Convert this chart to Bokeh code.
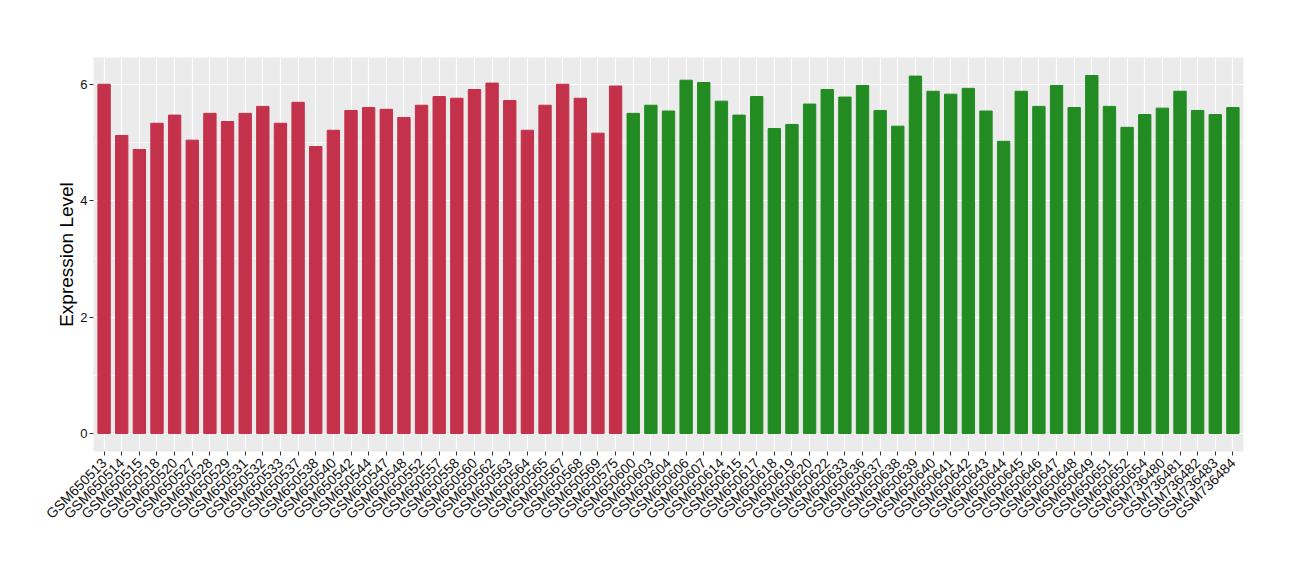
import math
from bokeh.plotting import figure
from bokeh.models import Range1d, SingleIntervalTicker, FixedTicker
from bokeh.embed import file_html
from bokeh.resources import INLINE

samples_red = ["GSM650513", "GSM650514", "GSM650515", "GSM650518", "GSM650520", "GSM650527",
               "GSM650528", "GSM650529", "GSM650531", "GSM650532", "GSM650533", "GSM650537",
               "GSM650538", "GSM650540", "GSM650542", "GSM650544", "GSM650547", "GSM650548",
               "GSM650552", "GSM650557", "GSM650558", "GSM650560", "GSM650562", "GSM650563",
               "GSM650564", "GSM650565", "GSM650567", "GSM650568", "GSM650569", "GSM650575"]
values_red = [6.00, 5.12, 4.88, 5.33, 5.47, 5.04, 5.50, 5.36, 5.50, 5.62, 5.33, 5.69,
              4.93, 5.21, 5.55, 5.60, 5.57, 5.43, 5.64, 5.79, 5.76, 5.91, 6.02, 5.72,
              5.21, 5.64, 6.00, 5.76, 5.16, 5.97]

samples_green = ["GSM650600", "GSM650603", "GSM650604", "GSM650606", "GSM650607", "GSM650614",
                 "GSM650615", "GSM650617", "GSM650618", "GSM650619", "GSM650620", "GSM650622",
                 "GSM650633", "GSM650636", "GSM650637", "GSM650638", "GSM650639", "GSM650640",
                 "GSM650641", "GSM650642", "GSM650643", "GSM650644", "GSM650645", "GSM650646",
                 "GSM650647", "GSM650648", "GSM650649", "GSM650651", "GSM650652", "GSM650654",
                 "GSM736480", "GSM736481", "GSM736482", "GSM736483", "GSM736484"]
values_green = [5.50, 5.64, 5.54, 6.07, 6.03, 5.71, 5.47, 5.79, 5.24, 5.31, 5.66, 5.91,
                5.78, 5.98, 5.55, 5.28, 6.14, 5.88, 5.83, 5.93, 5.54, 5.02, 5.88, 5.62,
                5.98, 5.60, 6.15, 5.62, 5.26, 5.48, 5.59, 5.88, 5.55, 5.48, 5.60]

red = "#C3314A"
green = "#228B22"

samples = samples_red + samples_green
pos_red = list(range(1, len(samples_red) + 1))
pos_green = list(range(len(samples_red) + 1, len(samples) + 1))
all_pos = pos_red + pos_green

p = figure(width=1292, height=564, output_backend="svg", toolbar_location=None,
           x_range=Range1d(0.4, len(samples) + 0.6),
           y_range=Range1d(-0.31, 6.46),
           min_border_left=93, min_border_right=49, min_border_top=57, min_border_bottom=113)

p.vbar(x=pos_red, top=values_red, width=0.7, color=red)
p.vbar(x=pos_green, top=values_green, width=0.7, color=green)

p.background_fill_color = "#EBEBEB"
p.border_fill_color = "white"
p.outline_line_color = None

p.xaxis.ticker = FixedTicker(ticks=all_pos)
p.xaxis.major_label_overrides = {i: s for i, s in zip(all_pos, samples)}
p.yaxis.ticker = SingleIntervalTicker(interval=2, num_minor_ticks=2)
p.ygrid.grid_line_color = "white"
p.ygrid.grid_line_width = 1.2
p.ygrid.minor_grid_line_color = "white"
p.ygrid.minor_grid_line_width = 0.6
p.xgrid.grid_line_color = "white"
p.xgrid.grid_line_width = 1.2

for ax in (p.xaxis, p.yaxis):
    ax.axis_line_color = None
    ax.major_tick_line_color = "#333333"
    ax.major_tick_in = 0
    ax.major_tick_out = 4
    ax.minor_tick_line_color = None
    ax.major_label_text_font = "Liberation Sans"
    ax.major_label_text_color = "#111111"

p.xaxis.major_label_text_font_size = "14px"
p.yaxis.major_label_text_font_size = "13px"
p.xaxis.major_label_orientation = math.pi / 4
p.xaxis.major_label_standoff = 5
p.yaxis.major_label_standoff = 2

p.yaxis.axis_label = "Expression Level"
p.yaxis.axis_label_text_font = "Liberation Sans"
p.yaxis.axis_label_text_font_style = "normal"
p.yaxis.axis_label_text_font_size = "19px"
p.yaxis.axis_label_text_color = "black"
p.yaxis.axis_label_standoff = 0

open("out.html", "w").write(file_html(p, INLINE))
